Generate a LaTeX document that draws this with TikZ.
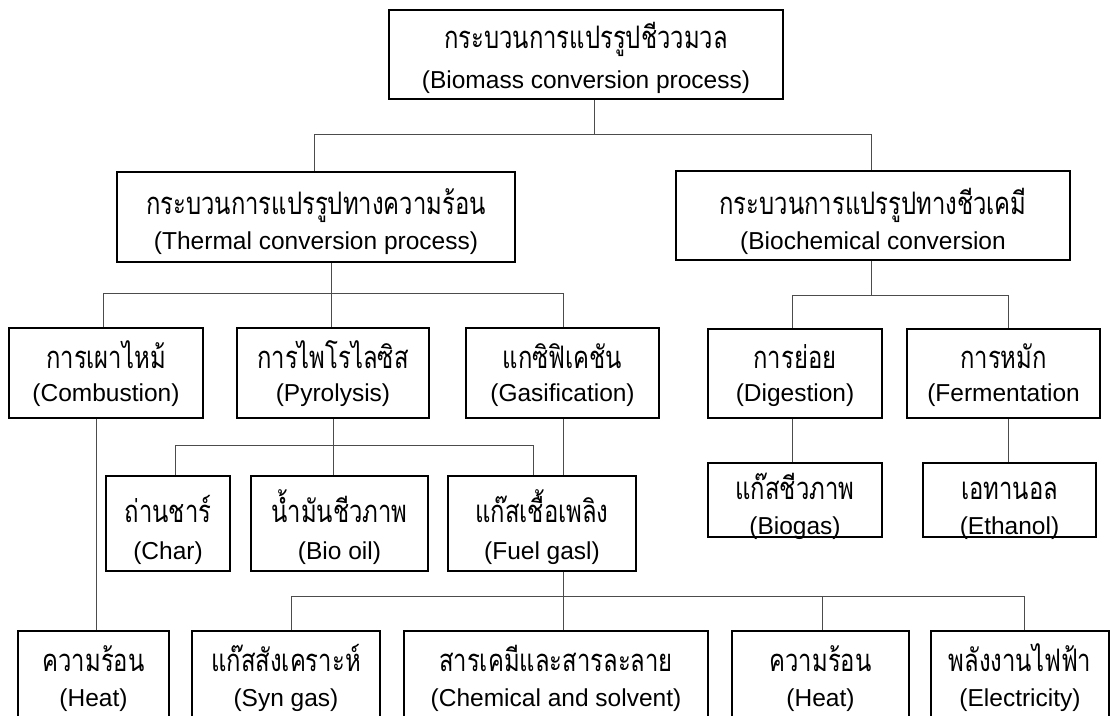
\documentclass[tikz,border=0pt]{standalone}
\usepackage{fontspec}
\setmainfont{Liberation Sans}
\newfontfamily\thaifont[Script=Thai,FakeStretch=0.77]{Loma}
% #1 name, #2 x1, #3 y1, #4 x2, #5 y2, #6 thai, #7 english, #8 thai baseline, #9 english baseline
\newcommand{\bx}[9]{%
  \node[box, minimum width={#4-#2}, minimum height={#5-#3}] (#1) at ({(#2+#4)/2},{(#3+#5)/2}) {};
  \node[thai] (#1-t) at ({(#2+#4)/2},#8) {#6};
  \node[eng] (#1-e) at ({(#2+#4)/2},#9) {#7};
}
\begin{document}
\begin{tikzpicture}[x=1pt,y=-1pt,
  box/.style={draw=black, line width=1.6pt, rectangle, inner sep=0pt},
  thai/.style={anchor=base, inner sep=0pt, font=\thaifont\fontsize{31}{31}\selectfont},
  eng/.style={anchor=base, inner sep=0pt, font=\fontsize{24.5}{28}\selectfont},
  conn/.style={draw=black!70, line width=0.9pt}]
\clip (0,0) rectangle (1110,715);
\fill[white] (0,0) rectangle (1110,715);
% boxes
\bx{top}{389}{10}{783}{99}{กระบวนการแปรรูปชีววมวล}{(Biomass conversion process)}{48}{88}
\bx{therm}{117}{172}{515}{262}{กระบวนการแปรรูปทางความร้อน}{(Thermal conversion process)}{214}{249}
\bx{bio}{676}{171}{1070}{260}{กระบวนการแปรรูปทางชีวเคมี}{(Biochemical conversion}{214}{249}
\bx{comb}{9}{328}{203}{418}{การเผาไหม้}{(Combustion)}{368}{401}
\bx{pyro}{237}{328}{429}{418}{การไพโรไลซิส}{(Pyrolysis)}{368}{401}
\bx{gasi}{466}{328}{659}{418}{แกซิฟิเคชัน}{(Gasification)}{368}{401}
\bx{dig}{708}{329}{882}{418}{การย่อย}{(Digestion)}{368}{401}
\bx{ferm}{907}{329}{1100}{418}{การหมัก}{(Fermentation}{368}{401}
\bx{char}{106}{476}{230}{571}{ถ่านชาร์}{(Char)}{522}{559}
\bx{oil}{251}{476}{428}{571}{น้ำมันชีวภาพ}{(Bio oil)}{522}{559}
\bx{fuel}{448}{476}{636}{571}{แก๊สเชื้อเพลิง}{(Fuel gasl)}{522}{559}
\bx{biogas}{708}{463}{882}{537}{แก๊สชีวภาพ}{(Biogas)}{499}{534}
\bx{eth}{923}{463}{1096}{537}{เอทานอล}{(Ethanol)}{499}{534}
\bx{heata}{18}{631}{169}{760}{ความร้อน}{(Heat)}{671}{706}
\bx{syn}{192}{631}{380}{760}{แก๊สสังเคราะห์}{(Syn gas)}{671}{706}
\bx{chem}{404}{631}{708}{760}{สารเคมีและสารละลาย}{(Chemical and solvent)}{671}{706}
\bx{heatb}{732}{631}{909}{760}{ความร้อน}{(Heat)}{671}{706}
\bx{elec}{931}{631}{1109}{760}{พลังงานไฟฟ้า}{(Electricity)}{671}{706}
% junctions
\coordinate (j1) at (594,134);
\coordinate (h1L) at (314,134); \coordinate (h1R) at (871,134);
\coordinate (h2L) at (103,293); \coordinate (h2R) at (563,293); \coordinate (h2M) at (331,293);
\coordinate (h3L) at (792,295); \coordinate (h3R) at (1008,295); \coordinate (h3M) at (871,295);
\coordinate (h4L) at (175,445); \coordinate (h4R) at (533,445); \coordinate (h4M) at (333,445);
\coordinate (gx) at (563,445);
\coordinate (h5L) at (291,596); \coordinate (h5R) at (1024,596); \coordinate (h5M) at (563,596); \coordinate (h5H) at (822,596);
\coordinate (cx) at (96,500);
% connectors
\draw[conn] (top.south -| j1) -- (j1);
\draw[conn] (therm.north -| h1L) -- (h1L) -- (h1R) -- (bio.north -| h1R);
\draw[conn] (comb.north -| h2L) -- (h2L) -- (h2R) -- (gasi.north -| h2R);
\draw[conn] (therm.south -| h2M) -- (pyro.north -| h2M);
\draw[conn] (dig.north -| h3L) -- (h3L) -- (h3R) -- (ferm.north -| h3R);
\draw[conn] (bio.south -| h3M) -- (h3M);
\draw[conn] (dig.south -| h3L) -- (biogas.north -| h3L);
\draw[conn] (ferm.south -| h3R) -- (eth.north -| h3R);
\draw[conn] (char.north -| h4L) -- (h4L) -- (h4R) -- (fuel.north -| h4R);
\draw[conn] (pyro.south -| h4M) -- (oil.north -| h4M);
\draw[conn] (gasi.south -| gx) -- (fuel.north -| gx);
\draw[conn] (syn.north -| h5L) -- (h5L) -- (h5R) -- (elec.north -| h5R);
\draw[conn] (fuel.south -| h5M) -- (chem.north -| h5M);
\draw[conn] (h5H) -- (heatb.north -| h5H);
\draw[conn] (comb.south -| cx) -- (heata.north -| cx);
\end{tikzpicture}
\end{document}
